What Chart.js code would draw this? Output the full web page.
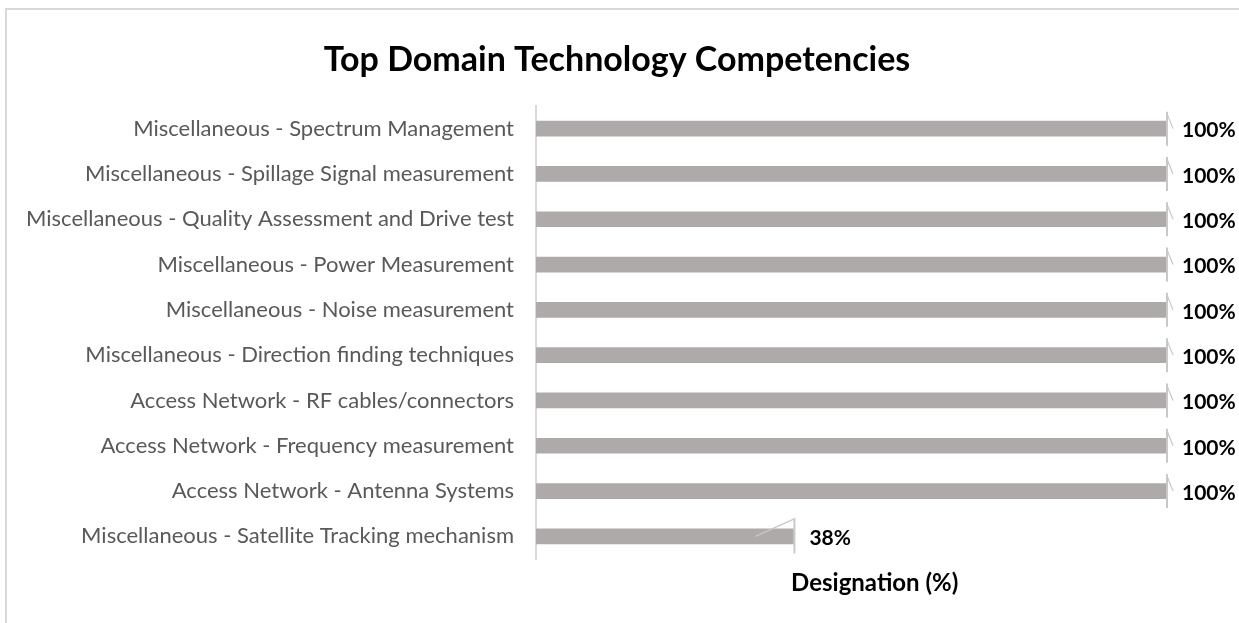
<!DOCTYPE html>
<html>
<head>
<meta charset="utf-8">
<script src="https://cdn.jsdelivr.net/npm/chart.js@4.4.1/dist/chart.umd.min.js"></script>
<style>
  html, body { margin: 0; padding: 0; background: #fff; overflow: hidden; }
  #frame { position: absolute; left: 5px; top: 8px; width: 1300px; height: 700px; border: 2px solid #d9d9d9; }
  #wrap { position: absolute; left: 0; top: 0; width: 1239px; height: 623px; }
</style>
</head>
<body>
<div id="frame"></div>
<div id="wrap"><canvas id="competencyChart"></canvas></div>
<script>
const categories = [
  'Miscellaneous - Spectrum Management',
  'Miscellaneous - Spillage Signal measurement',
  'Miscellaneous - Quality Assessment and Drive test',
  'Miscellaneous - Power Measurement',
  'Miscellaneous - Noise measurement',
  'Miscellaneous - Direction finding techniques',
  'Access Network - RF cables/connectors',
  'Access Network - Frequency measurement',
  'Access Network - Antenna Systems',
  'Miscellaneous - Satellite Tracking mechanism'
];
const designation = [100, 100, 100, 100, 100, 100, 100, 100, 100, 38];
const titleText = 'Top Domain Technology Competencies';
const axisTitle = 'Designation (%)';

const FONT = 'Lato, "Open Sans", sans-serif';

// title, value labels, end markers and axis title
const barDecor = {
  id: 'barDecor',
  afterDatasetsDraw(chart) {
    const { ctx, chartArea } = chart;
    const meta = chart.getDatasetMeta(0);
    ctx.save();
    meta.data.forEach((bar, i) => {
      const x = Math.min(bar.x, chartArea.right);
      const y = bar.y;
      // end marker
      ctx.strokeStyle = '#c8c8c8';
      ctx.lineWidth = 2;
      ctx.beginPath();
      ctx.moveTo(x + 1, y - 17);
      ctx.lineTo(x + 1, y + 17);
      ctx.stroke();
      // leader line
      ctx.lineWidth = 1.2;
      ctx.beginPath();
      if (bar.x > chartArea.right) {
        ctx.moveTo(x + 1, y - 15);
        ctx.lineTo(x + 7, y);
      } else {
        ctx.moveTo(x - 38, y);
        ctx.lineTo(x + 2, y - 18);
      }
      ctx.stroke();
      // value label
      ctx.fillStyle = '#000';
      ctx.font = 'bold 21px ' + FONT;
      ctx.textAlign = 'left';
      ctx.textBaseline = 'middle';
      ctx.fillText(designation[i] + '%', x + 16, y + 2);
    });
    const xs = chart.scales.x;
    ctx.textAlign = 'center';
    ctx.font = 'bold 24px ' + FONT;
    ctx.fillText(axisTitle, xs.getPixelForValue(50), chartArea.bottom + 24);
    ctx.font = 'bold 34px ' + FONT;
    ctx.fillText(titleText, 617, 60);
    ctx.restore();
  }
};

const ctx = document.getElementById('competencyChart').getContext('2d');
window.competencyChart = new Chart(ctx, {
  type: 'bar',
  data: {
    labels: categories,
    datasets: [{
      label: axisTitle,
      data: designation,
      backgroundColor: '#aeaaaa',
      barThickness: 15
    }]
  },
  options: {
    indexAxis: 'y',
    responsive: true,
    maintainAspectRatio: false,
    animation: false,
    layout: { padding: { left: 0, right: 73, top: 106, bottom: 64 } },
    plugins: {
      legend: { display: false },
      tooltip: { enabled: false },
      title: { display: false }
    },
    scales: {
      x: { display: false, min: 0, max: 93 },
      y: {
        grid: { display: false, drawTicks: false },
        border: { display: true, color: '#d9d9d9', width: 2 },
        ticks: { color: '#595959', padding: 22, font: { family: FONT, size: 22 } },
        afterFit(scale) { scale.width = 536; }
      }
    }
  },
  plugins: [barDecor]
});
</script>
</body>
</html>
